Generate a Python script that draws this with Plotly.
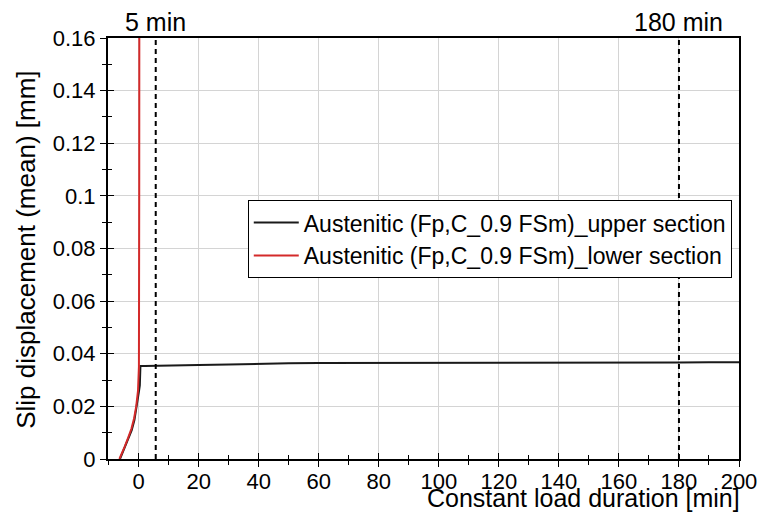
import plotly.graph_objects as go

# Data
upper_x = [-6.2, -5.5, -4.5, -3.4, -2.3, -1.4, -0.6, 0.1, 0.4, 0.6, 2, 5, 10, 20, 30, 40, 50, 60, 80, 100, 120, 140, 160, 180, 190, 200]
upper_y = [0.0, 0.002, 0.0047, 0.0078, 0.011, 0.0148, 0.0199, 0.0256, 0.028, 0.0353, 0.0353, 0.0354, 0.0355, 0.0357, 0.0359, 0.0362, 0.0364, 0.0365, 0.0365, 0.0365, 0.0366, 0.0366, 0.0366, 0.0367, 0.0368, 0.0368]
lower_x = [-6.4, -5.6, -4.6, -3.5, -2.4, -1.5, -0.8, -0.2, 0.1, 0.2, 0.25]
lower_y = [0.0, 0.002, 0.0048, 0.008, 0.0115, 0.0155, 0.02, 0.026, 0.035, 0.1, 0.2]
marker_lines = [5.7, 180]
marker_labels = ["5 min", "180 min"]
x_ticks = [0, 20, 40, 60, 80, 100, 120, 140, 160, 180, 200]
y_ticks = [0, 0.02, 0.04, 0.06, 0.08, 0.1, 0.12, 0.14, 0.16]
y_ticktext = ["0", "0.02", "0.04", "0.06", "0.08", "0.1", "0.12", "0.14", "0.16"]
series_names = ["Austenitic (Fp,C_0.9 FSm)_upper section", "Austenitic (Fp,C_0.9 FSm)_lower section"]
x_title = "Constant load duration [min]"
y_title = "Slip displacement (mean) [mm]"

FONT = "Liberation Sans, Arial, sans-serif"
XR = [-10.2, 200]
YR = [0, 0.16]

fig = go.Figure()
fig.add_trace(go.Scatter(x=upper_x, y=upper_y, mode="lines", name=series_names[0],
                         line=dict(color="#1a1a1a", width=2), legendgroup="a"))
fig.add_trace(go.Scatter(x=lower_x, y=lower_y, mode="lines", name=series_names[1],
                         line=dict(color="#d42a2a", width=2), legendgroup="b"))
# dummy trace for overlay axes (inside ticks to create crossing ticks)
fig.add_trace(go.Scatter(x=[None], y=[None], xaxis="x2", yaxis="y2", showlegend=False, hoverinfo="skip"))

for xv, lab in zip(marker_lines, marker_labels):
    fig.add_shape(type="line", x0=xv, x1=xv, y0=0, y1=1, xref="x", yref="paper",
                  line=dict(color="black", width=2, dash="5px,4px"))
    fig.add_annotation(x=xv, y=1, xref="x", yref="paper", text=lab, showarrow=False,
                       yanchor="bottom", xanchor="center", yshift=0,
                       font=dict(family=FONT, size=25, color="black"))

common_axis = dict(showline=True, linecolor="black", linewidth=2, mirror=True,
                   ticks="outside", ticklen=6, tickwidth=1, tickcolor="black",
                   showgrid=True, gridcolor="#d4d4d4", gridwidth=1, zeroline=False,
                   automargin=False,
                   tickfont=dict(family=FONT, size=22, color="black"))

fig.update_layout(
    width=760, height=516,
    margin=dict(l=108, r=21, t=38, b=57),
    paper_bgcolor="white", plot_bgcolor="white",
    showlegend=True,
    legend=dict(x=0.2215, y=0.615, xanchor="left", yanchor="top",
                bgcolor="white", bordercolor="black", borderwidth=1,
                font=dict(family=FONT, size=23, color="black"),
                tracegroupgap=0, itemwidth=45),
    xaxis=dict(range=XR, tickvals=x_ticks, ticklabelstandoff=-4, **common_axis,
               minor=dict(dtick=10, tick0=0, ticks="outside", ticklen=4, tickcolor="black", showgrid=False)),
    yaxis=dict(range=YR, tickvals=y_ticks, ticktext=y_ticktext, **common_axis,
               minor=dict(dtick=0.01, tick0=0, ticks="outside", ticklen=4, tickcolor="black", showgrid=False)),
    xaxis2=dict(range=XR, overlaying="x", anchor="y2", tickvals=x_ticks, ticks="inside", ticklen=6,
                tickcolor="black", showticklabels=False, showgrid=False, showline=False, zeroline=False,
                automargin=False,
                minor=dict(dtick=10, tick0=0, ticks="inside", ticklen=4, tickcolor="black", showgrid=False)),
    yaxis2=dict(range=YR, overlaying="y", anchor="x2", tickvals=y_ticks, ticks="inside", ticklen=6,
                tickcolor="black", showticklabels=False, showgrid=False, showline=False, zeroline=False,
                automargin=False,
                minor=dict(dtick=0.01, tick0=0, ticks="inside", ticklen=4, tickcolor="black", showgrid=False)),
)

fig.add_annotation(x=XR[1], y=-0.093, xref="x", yref="paper", text=x_title,
                   showarrow=False, xanchor="right", yanchor="middle", xshift=3,
                   font=dict(family=FONT, size=25, color="black"))
fig.add_annotation(x=-0.13, y=0.0795, xref="paper", yref="y", text=y_title,
                   showarrow=False, textangle=-90, xanchor="center", yanchor="middle",
                   font=dict(family=FONT, size=26, color="black"))

fig.write_html("out.html")
